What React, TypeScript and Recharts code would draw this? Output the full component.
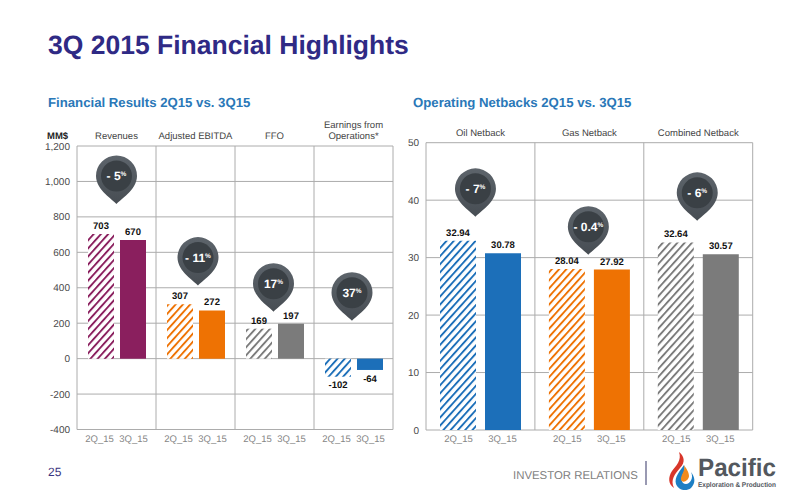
import {
  BarChart,
  Bar,
  XAxis,
  YAxis,
  CartesianGrid,
  Cell,
  LabelList,
  ReferenceDot,
} from "recharts";

const financialGroups = ["Revenues", "Adjusted EBITDA", "FFO", "Earnings from\nOperations*"];
const financial2Q = [703, 307, 169, -102];
const financial3Q = [670, 272, 197, -64];
const financialChange = ["- 5", "- 11", "17", "37"];
const financialPinAt = [873, 412, 265, 214];
const financialTicks = [-400, -200, 0, 200, 400, 600, 800, 1000, 1200];

const netbackGroups = ["Oil Netback", "Gas Netback", "Combined Netback"];
const netback2Q = [32.94, 28.04, 32.64];
const netback3Q = [30.78, 27.92, 30.57];
const netbackChange = ["- 7", "- 0.4", "- 6"];
const netbackPinAt = [37.1, 30.5, 36.4];
const netbackTicks = [0, 10, 20, 30, 40, 50];

const periods = ["2Q_15", "3Q_15"];

const PURPLE = "#8a1f5e";
const ORANGE = "#ee7203";
const GREY = "#7b7b7b";
const BLUE = "#1c6fb9";
const FONT = '"Liberation Sans", Arial, sans-serif';

function Hatches() {
  return (
    <defs>
      {[PURPLE, ORANGE, GREY, BLUE].map((c) => (
        <pattern
          key={c}
          id={`hatch-${c.slice(1)}`}
          width="5.4"
          height="5.4"
          patternUnits="userSpaceOnUse"
          patternTransform="rotate(42)"
        >
          <rect width="5.4" height="5.4" fill="#fff" />
          <rect width="1.9" height="5.4" fill={c} />
        </pattern>
      ))}
      <linearGradient id="pinBody" x1="0" y1="0" x2="0" y2="1">
        <stop offset="0%" stopColor="#5d646b" />
        <stop offset="100%" stopColor="#474d53" />
      </linearGradient>
    </defs>
  );
}

function Pin({ cx, cy, label, nudge }: any) {
  return (
    <g transform={`translate(${cx + nudge},${cy})`}>
      <path
        d="M0 0 C-3 -4 -20.5 -14 -20.5 -28 A20.5 20.5 0 1 1 20.5 -28 C20.5 -14 3 -4 0 0 Z"
        fill="url(#pinBody)"
      />
      <circle cx="0" cy="-28" r="15.5" fill="#3a4045" />
      <text x="0" y="-23.5" textAnchor="middle" fill="#fff" fontFamily={FONT} fontWeight="700" fontSize="12">
        {label}
        <tspan fontSize="6.5" dy="-4">%</tspan>
      </text>
    </g>
  );
}

function PeriodTick({ x, y, spread }: any) {
  return (
    <g fontFamily={FONT} fontSize="9.5" fill="#858585">
      {periods.map((p, i) => (
        <text key={p} x={x + (i === 0 ? -spread : spread)} y={y + 4} textAnchor="middle">
          {p}
        </text>
      ))}
    </g>
  );
}

function GroupTick({ x, y, payload }: any) {
  const lines = String(payload.value).split("\n");
  return (
    <text x={x} textAnchor="middle" fontFamily={FONT} fontSize="9.5" fill="#444">
      {lines.map((l, i) => (
        <tspan key={l} x={x} y={y + 1 - (lines.length - 1 - i) * 11}>
          {l}
        </tspan>
      ))}
    </text>
  );
}

function Panel({ groups, v2Q, v3Q, change, pinAt, pinNudge, ticks, colors, barSize, barGap, spread, width, height, yWidth, topH, bottomH, right, tickFmt }: any) {
  const data = groups.map((g: string, i: number) => ({ group: g, prior: v2Q[i], current: v3Q[i] }));
  return (
    <BarChart
      width={width}
      height={height}
      data={data}
      barSize={barSize}
      barGap={barGap}
      margin={{ top: 0, right, bottom: 0, left: 0 }}
    >
      <Hatches />
      <CartesianGrid
        stroke="#acacac"
        verticalCoordinatesGenerator={({ offset }: any) =>
          [...groups, ""].map((_: string, i: number) => offset.left + (i * offset.width) / groups.length)
        }
      />
      <XAxis
        dataKey="group"
        height={bottomH}
        interval={0}
        axisLine={false}
        tickLine={false}
        tick={(p: any) => <PeriodTick {...p} spread={spread} />}
      />
      <XAxis
        xAxisId="top"
        orientation="top"
        dataKey="group"
        height={topH}
        interval={0}
        axisLine={false}
        tickLine={false}
        tick={<GroupTick />}
      />
      <YAxis
        width={yWidth}
        domain={[ticks[0], ticks[ticks.length - 1]]}
        ticks={ticks}
        interval={0}
        axisLine={false}
        tickLine={false}
        tickMargin={1}
        tickFormatter={tickFmt}
        tick={{ fill: "#4a4a4a", fontSize: 10, fontFamily: FONT }}
      />
      <Bar dataKey="prior" isAnimationActive={false}>
        {data.map((_: any, i: number) => (
          <Cell key={i} fill={`url(#hatch-${colors[i].slice(1)})`} />
        ))}
        <LabelList dataKey="prior" position="top" fill="#111" fontSize={9.5} fontWeight={700} fontFamily={FONT} />
      </Bar>
      <Bar dataKey="current" isAnimationActive={false}>
        {data.map((_: any, i: number) => (
          <Cell key={i} fill={colors[i]} />
        ))}
        <LabelList dataKey="current" position="top" fill="#111" fontSize={9.5} fontWeight={700} fontFamily={FONT} />
      </Bar>
      {groups.map((g: string, i: number) => (
        <ReferenceDot
          key={g}
          x={g}
          y={pinAt[i]}
          shape={(p: any) => <Pin {...p} label={change[i]} nudge={pinNudge[i]} />}
        />
      ))}
    </BarChart>
  );
}

function Page() {
  return (
    <svg width="800" height="500" style={{ position: "absolute", left: 0, top: 0 }} fontFamily={FONT}>
      <text x="48" y="54" fontSize="26.5" fontWeight="700" fill="#2f2a85">
        3Q 2015 Financial Highlights
      </text>
      <text x="48" y="107" fontSize="13.2" fontWeight="700" fill="#2a78b8">
        Financial Results 2Q15 vs. 3Q15
      </text>
      <text x="413" y="107" fontSize="13.2" fontWeight="700" fill="#2a78b8">
        Operating Netbacks 2Q15 vs. 3Q15
      </text>
      <text x="47" y="139" fontSize="9.5" fontWeight="700" fill="#222">
        MM$
      </text>
      <text x="48" y="476" fontSize="12" fill="#3a3580">
        25
      </text>
      <text x="513" y="479" fontSize="11.4" fill="#7f7f7f">
        INVESTOR RELATIONS
      </text>
      <line x1="646" y1="461" x2="646" y2="485" stroke="#55557f" strokeWidth="1.2" />
      {/* logo */}
      <path d="M679 452 C682 460 676 466 672 471 C668 477 668 484 674 488 C670 480 675 474 680 468 C686 462 684 456 679 452 Z" fill="#d8362a" />
      <path d="M684 465 C680 471 674 477 676 484 C678 490 686 492 691 488 C696 483 695 477 691 472 C694 478 690 484 686 484 C681 484 681 478 683 474 C685 471 685 468 684 465 Z" fill="#1d7fc4" />
      <path d="M684 465 C686 470 680 476 681 480 C683 484 689 480 689 476 C689 472 686 468 684 465 Z" fill="#f08a1d" />
      <text x="698" y="476" fontSize="25" fontWeight="700" fill="#53585e" textLength="78" lengthAdjust="spacingAndGlyphs">
        Pacific
      </text>
      <text x="698" y="487" fontSize="7" fontWeight="700" fill="#53585e" textLength="78" lengthAdjust="spacingAndGlyphs">
        Exploration &amp; Production
      </text>
    </svg>
  );
}

export default function App() {
  return (
    <div style={{ position: "absolute", left: 0, top: 0, width: 800, height: 500, background: "#fff", fontFamily: FONT, textRendering: "geometricPrecision" }}>
      <Page />
      <div style={{ position: "absolute", left: 37, top: 110 }}>
        <Panel
          groups={financialGroups}
          v2Q={financial2Q}
          v3Q={financial3Q}
          change={financialChange}
          pinAt={financialPinAt}
          pinNudge={[0, 2.5, -1, -1.5]}
          ticks={financialTicks}
          colors={[PURPLE, ORANGE, GREY, BLUE]}
          barSize={26}
          barGap={6}
          spread={17}
          width={360}
          height={340}
          yWidth={40}
          topH={36}
          bottomH={20.5}
          right={4}
          tickFmt={(v: number) => v.toLocaleString("en-US")}
        />
      </div>
      <div style={{ position: "absolute", left: 396, top: 110 }}>
        <Panel
          groups={netbackGroups}
          v2Q={netback2Q}
          v3Q={netback3Q}
          change={netbackChange}
          pinAt={netbackPinAt}
          pinNudge={[-5, -1, -1]}
          ticks={netbackTicks}
          colors={[BLUE, ORANGE, GREY]}
          barSize={36}
          barGap={9}
          spread={22}
          width={374}
          height={340}
          yWidth={30}
          topH={32.7}
          bottomH={20}
          right={17.3}
        />
      </div>
    </div>
  );
}
